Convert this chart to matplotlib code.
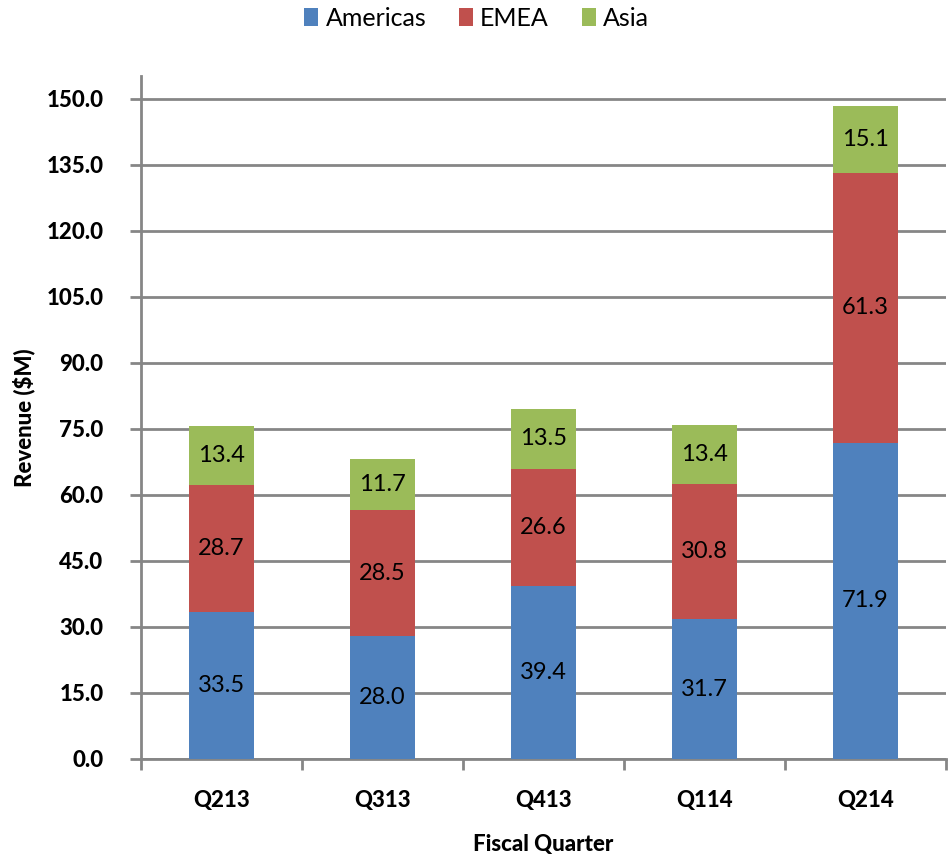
import matplotlib
matplotlib.use("Agg")
import matplotlib.pyplot as plt
from matplotlib.patches import Patch

# Data (revenue in $M)
quarters = ["Q213", "Q313", "Q413", "Q114", "Q214"]
americas = [33.5, 28.0, 39.4, 31.7, 71.9]
emea = [28.7, 28.5, 26.6, 30.8, 61.3]
asia = [13.4, 11.7, 13.5, 13.4, 15.1]
series_names = ["Americas", "EMEA", "Asia"]
y_ticks = [0, 15, 30, 45, 60, 75, 90, 105, 120, 135, 150]

colors = ["#4F81BD", "#C0504D", "#9BBB59"]
grid_color = "#868686"

plt.rcParams["font.family"] = ["Lato", "DejaVu Sans"]

fig = plt.figure(figsize=(9.53, 8.57), dpi=100)
ax = fig.add_axes([0.148, 0.1144, 0.8447, 0.7969])

x = list(range(len(quarters)))
width = 0.40
bottom = [0.0] * len(quarters)
for vals, col in zip([americas, emea, asia], colors):
    ax.bar(x, vals, width, bottom=bottom, color=col, zorder=3, edgecolor="none")
    for xi, v, b in zip(x, vals, bottom):
        ax.text(xi, b + v / 2, f"{v:.1f}", ha="center", va="center",
                fontsize=17, color="black", zorder=4)
    bottom = [b + v for b, v in zip(bottom, vals)]

ax.set_xlim(-0.5, len(quarters) - 0.5)
ax.set_ylim(0, 155.2)
ax.set_yticks(y_ticks)
ax.set_yticklabels([f"{t:.1f}" for t in y_ticks], fontsize=16, fontweight="black")
ax.yaxis.grid(True, color=grid_color, linewidth=2, zorder=0)
ax.set_axisbelow(True)

# category labels centered, tick marks at category boundaries
ax.set_xticks(x)
ax.set_xticklabels(quarters, fontsize=16, fontweight="black")
ax.tick_params(axis="x", length=0, pad=22)
ax.set_xticks([i - 0.5 for i in range(len(quarters) + 1)], minor=True)
ax.tick_params(axis="x", which="minor", length=8, width=2, color=grid_color,
               direction="out")
ax.tick_params(axis="y", length=8, width=2, color=grid_color, pad=19)

for s in ["top", "right"]:
    ax.spines[s].set_visible(False)
for s in ["left", "bottom"]:
    ax.spines[s].set_color(grid_color)
    ax.spines[s].set_linewidth(2)

ax.set_ylabel("Revenue ($M)", fontsize=16, fontweight="black", labelpad=8)
ax.set_xlabel("Fiscal Quarter", fontsize=16, fontweight="black", labelpad=17)

handles = [Patch(facecolor=c, edgecolor="none") for c in colors]
fig.legend(handles, series_names, loc="center", ncol=3,
           bbox_to_anchor=(0.5, 1 - 18 / 857), frameon=False, fontsize=18,
           handlelength=0.56, handleheight=0.72, handletextpad=0.3,
           columnspacing=1.3, borderpad=0)

fig.savefig("out.png", dpi=100)
